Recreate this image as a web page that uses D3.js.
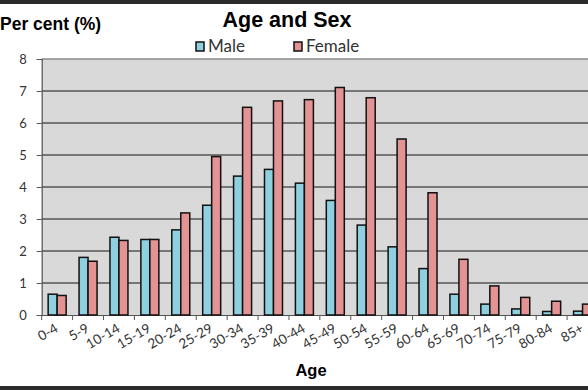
<!DOCTYPE html>
<html>
<head>
<meta charset="utf-8">
<script src="https://cdn.jsdelivr.net/npm/d3@7"></script>
<style>
  body { margin: 0; background: #fff; }
  svg { display: block; }
</style>
</head>
<body>
<div id="chart"></div>
<script>
// data
let ageGroups = ['0-4', '5-9', '10-14', '15-19', '20-24', '25-29', '30-34', '35-39', '40-44',
  '45-49', '50-54', '55-59', '60-64', '65-69', '70-74', '75-79', '80-84', '85+'];
let male = [0.65, 1.8, 2.43, 2.36, 2.66, 3.43, 4.34, 4.55, 4.12,
  3.58, 2.81, 2.13, 1.45, 0.65, 0.34, 0.19, 0.11, 0.12];
let female = [0.61, 1.68, 2.33, 2.36, 3.19, 4.95, 6.49, 6.69, 6.73,
  7.11, 6.79, 5.5, 3.82, 1.74, 0.91, 0.55, 0.43, 0.34];
let yTicks = [0, 1, 2, 3, 4, 5, 6, 7, 8];

let W = 588, H = 390;
let margin = { top: 59, left: 41.7, right: -10, bottom: 75 };

let svg = d3.select('#chart')
  .append('svg')
  .attr('width', W)
  .attr('height', H);

// frame bands at top and bottom
svg.append('rect').attr('x', 0).attr('y', 0).attr('width', W).attr('height', 4).attr('fill', '#2b2b2b');
svg.append('rect').attr('x', 0).attr('y', 386).attr('width', W).attr('height', 4).attr('fill', '#2b2b2b');

let xScale = d3.scaleBand()
  .domain(ageGroups)
  .range([margin.left, W - margin.right])
  .padding(0);

let yScale = d3.scaleLinear()
  .domain([0, 8])
  .range([H - margin.bottom, margin.top]);

// plot background
svg.append('rect')
  .attr('x', margin.left)
  .attr('y', yScale(8))
  .attr('width', W - margin.left)
  .attr('height', yScale(0) - yScale(8))
  .attr('fill', '#d9d9d9');

// top border of plot
svg.append('line')
  .attr('x1', margin.left).attr('x2', W)
  .attr('y1', yScale(8)).attr('y2', yScale(8))
  .attr('stroke', '#8a8a8a').attr('stroke-width', 1.5);

// gridlines
svg.append('g')
  .selectAll('line')
  .data(yTicks.slice(1, -1))
  .enter()
  .append('line')
  .attr('x1', margin.left).attr('x2', W)
  .attr('y1', d => yScale(d)).attr('y2', d => yScale(d))
  .attr('stroke', '#555').attr('stroke-width', 1.3);

// y axis
let yAxis = svg.append('g')
  .attr('transform', `translate(${margin.left},0)`)
  .call(d3.axisLeft(yScale).tickValues(yTicks).tickSize(5).tickPadding(10).tickFormat(d3.format('d')));
yAxis.select('.domain').attr('stroke', '#555').attr('stroke-width', 1.2);
yAxis.selectAll('.tick line').attr('stroke', '#555');
yAxis.selectAll('text')
  .style('font-family', 'Lato, "Open Sans", sans-serif')
  .style('font-size', '13px')
  .attr('fill', '#333');

// x axis
let xAxis = svg.append('g')
  .attr('transform', `translate(0,${yScale(0)})`)
  .call(d3.axisBottom(xScale).tickSize(5).tickSizeOuter(0).tickFormat(''));
xAxis.select('.domain').attr('stroke', '#555').attr('stroke-width', 1.2);
xAxis.selectAll('.tick line')
  .attr('transform', `translate(${-xScale.bandwidth() / 2},0)`)
  .attr('stroke', '#555');

// rotated x labels
svg.append('g')
  .selectAll('text')
  .data(ageGroups)
  .enter()
  .append('text')
  .attr('transform', d => `translate(${xScale(d) + xScale.bandwidth() / 2 + 2},${yScale(0) + 16}) rotate(-30)`)
  .attr('text-anchor', 'end')
  .style('font-family', 'Lato, "Open Sans", sans-serif')
  .style('font-size', '13.5px')
  .attr('fill', '#333')
  .text(d => d);

// bars
let barW = 9;
let inner = (xScale.bandwidth() - 2 * barW) / 2;
let series = [
  { name: 'Male', values: male, color: '#8fd0e0', offset: 0 },
  { name: 'Female', values: female, color: '#e39393', offset: 1 }
];

series.forEach(function(s) {
  svg.append('g')
    .selectAll('rect')
    .data(s.values)
    .enter()
    .append('rect')
    .attr('x', (d, i) => xScale(ageGroups[i]) + inner + s.offset * barW)
    .attr('y', d => yScale(d))
    .attr('width', barW)
    .attr('height', d => yScale(0) - yScale(d))
    .attr('fill', s.color)
    .attr('stroke', '#111')
    .attr('stroke-width', 1.5);
});

// title
svg.append('text')
  .attr('x', 287)
  .attr('y', 27)
  .attr('text-anchor', 'middle')
  .style('font-family', '"Liberation Sans", Arial, sans-serif')
  .style('font-weight', 'bold')
  .style('font-size', '21.5px')
  .text('Age and Sex');

// y axis label
svg.append('text')
  .attr('x', 0)
  .attr('y', 30)
  .style('font-family', '"Liberation Sans", Arial, sans-serif')
  .style('font-weight', 'bold')
  .style('font-size', '17.5px')
  .text('Per cent (%)');

// x axis label
svg.append('text')
  .attr('x', 311)
  .attr('y', 376)
  .attr('text-anchor', 'middle')
  .style('font-family', '"Liberation Sans", Arial, sans-serif')
  .style('font-weight', 'bold')
  .style('font-size', '16.5px')
  .text('Age');

// legend
let legendX = [196, 294];
series.forEach(function(s, i) {
  let g = svg.append('g').attr('transform', `translate(${legendX[i]},42)`);
  g.append('rect')
    .attr('width', 8).attr('height', 9)
    .attr('fill', s.color)
    .attr('stroke', '#111').attr('stroke-width', 1.5);
  g.append('text')
    .attr('x', 12).attr('y', 10)
    .style('font-family', 'Lato, "Open Sans", sans-serif')
    .style('font-size', '17px')
    .attr('fill', '#333')
    .text(s.name);
});
</script>
</body>
</html>
